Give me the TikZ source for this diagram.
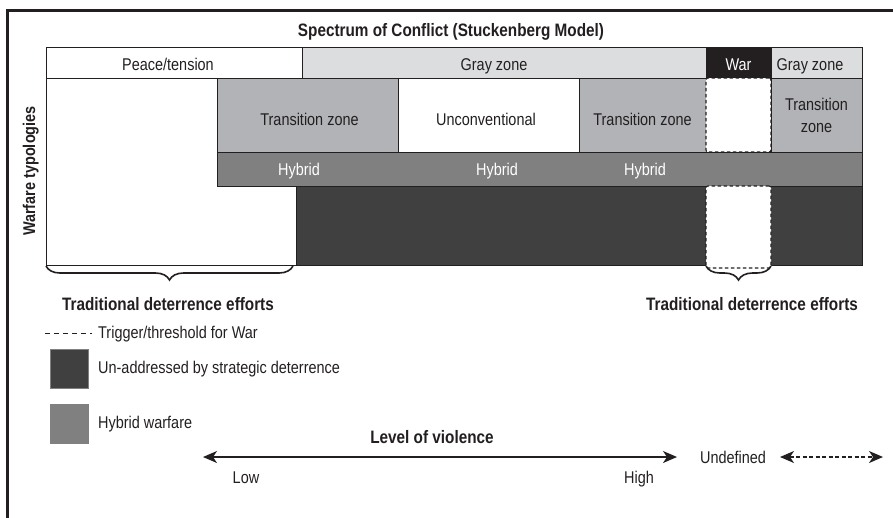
\documentclass[tikz,border=0pt]{standalone}
\usepackage{fontspec}
\setmainfont{Liberation Sans}[FakeStretch=0.85]
\usetikzlibrary{arrows.meta,decorations.pathreplacing}
\definecolor{ink}{HTML}{231F20}
\definecolor{zonegray}{HTML}{DCDDDE}
\definecolor{transgray}{HTML}{B1B3B6}
\definecolor{hybgray}{HTML}{808080}
\definecolor{deepgray}{HTML}{404040}
\begin{document}
\begin{tikzpicture}[x=1pt,y=-1pt,
  cell/.style={draw=ink, line width=0.9pt, inner sep=0pt, outer sep=0pt, anchor=north west},
  dashcell/.style={draw=ink, fill=white, line width=1.1pt, dash pattern=on 3.5pt off 2.5pt, rounded corners=2pt, inner sep=0pt, outer sep=0pt, anchor=north west},
  lbl/.style={inner sep=0pt, font=\fontsize{17}{21}\selectfont, text=ink, anchor=base},
  blbl/.style={inner sep=0pt, font=\fontsize{18}{21}\selectfont\bfseries, text=ink, anchor=base},
  bracestyle/.style={draw=ink, line width=1.6pt, decorate, decoration={brace, amplitude=14pt}},
  legsq/.style={draw=gray, line width=0.6pt, inner sep=0pt, minimum width=38pt, minimum height=39pt, anchor=north west},
  vioarrow/.style={draw=ink, line width=1.4pt, {Stealth[length=14pt,width=12pt,inset=4pt]}-{Stealth[length=14pt,width=12pt,inset=4pt]}}
]
\useasboundingbox (0,0) rectangle (893,517);
% frame
\draw[ink, line width=2.6pt] (7.5,520) -- (7.5,10.5) -- (896,10.5);

% title
\node[blbl] (title) at (451,36) {Spectrum of Conflict (Stuckenberg Model)};

% top row
\node[cell, fill=white, minimum width=256pt, minimum height=31pt] (peace) at (46,47) {};
\node[cell, fill=zonegray, minimum width=404pt, minimum height=31pt] (grayzone) at (302,47) {};
\node[cell, fill=ink, minimum width=65pt, minimum height=31pt] (war) at (706,47) {};
\node[cell, fill=zonegray, minimum width=91pt, minimum height=31pt] (grayzone2) at (771,47) {};
\node[lbl] (peacet) at (168,70) {Peace/tension};
\node[lbl] (grayzonet) at (494,70) {Gray zone};
\node[lbl, text=white] (wart) at (738.5,70) {War};
\node[lbl] (grayzone2t) at (810,70) {Gray zone};

% big white box
\node[cell, fill=white, minimum width=256pt, minimum height=187pt] (whitebox) at (46,78) {};

% second row
\node[cell, fill=transgray, minimum width=181pt, minimum height=74pt] (trans1) at (217,78) {};
\node[cell, fill=white, minimum width=181pt, minimum height=74pt] (unconv) at (398,78) {};
\node[cell, fill=transgray, minimum width=127pt, minimum height=74pt] (trans2) at (579,78) {};
\node[dashcell, minimum width=65pt, minimum height=74pt] (gap1) at (706,78) {};
\node[cell, fill=transgray, minimum width=91pt, minimum height=74pt] (trans3) at (771,78) {};
\node[lbl] (trans1t) at (309.5,125) {Transition zone};
\node[lbl] (unconvt) at (486,125) {Unconventional};
\node[lbl] (trans2t) at (642.5,125) {Transition zone};
\node[lbl] (trans3a) at (816.5,110) {Transition};
\node[lbl] (trans3b) at (816.5,132) {zone};

% hybrid row
\node[cell, fill=hybgray, minimum width=645pt, minimum height=34pt] (hybrid) at (217,152) {};
\node[lbl, text=white] (hyb1) at (299,175) {Hybrid};
\node[lbl, text=white] (hyb2) at (497,175) {Hybrid};
\node[lbl, text=white] (hyb3) at (645,175) {Hybrid};

% dark row
\node[cell, fill=deepgray, minimum width=566pt, minimum height=79pt] (dark) at (296,186) {};
\node[dashcell, minimum width=65pt, minimum height=82pt] (gap2) at (706,186) {};

% braces
\coordinate (bl1) at (46,266);
\coordinate (br1) at (293,266);
\coordinate (bl2) at (706,266);
\coordinate (br2) at (771,266);
\draw[bracestyle] (br1) -- (bl1);
\draw[bracestyle] (br2) -- (bl2);
\node[blbl] (trad1) at (168,310) {Traditional deterrence efforts};
\node[blbl] (trad2) at (752,310) {Traditional deterrence efforts};

% side label
\node[blbl, rotate=90, font=\fontsize{17}{21}\selectfont\bfseries] (typ) at (35,171) {Warfare typologies};

% legend
\coordinate (dl1) at (45,333);
\coordinate (dl2) at (92,333);
\draw[ink, line width=0.9pt, dash pattern=on 5pt off 4pt] (dl1) -- (dl2);
\node[lbl, anchor=base west] (trig) at (98,338) {Trigger/threshold for War};
\node[legsq, fill=deepgray] (sq1) at (50,349) {};
\node[lbl, anchor=base west] (unad) at (98,373) {Un-addressed by strategic deterrence};
\node[legsq, fill=hybgray] (sq2) at (50,404) {};
\node[lbl, anchor=base west] (hybw) at (98,428) {Hybrid warfare};

% level of violence
\coordinate (lowend) at (203,457);
\coordinate (highend) at (677,457);
\draw[vioarrow] (lowend) -- (highend);
\node[blbl] (lov) at (432,443) {Level of violence};
\node[lbl] (low) at (246,483) {Low};
\node[lbl] (high) at (639,483) {High};
\node[lbl] (undef) at (733,463) {Undefined};
\coordinate (u1) at (780,457);
\coordinate (u2) at (883,457);
\draw[vioarrow, dash pattern=on 4pt off 2.5pt] (u1) -- (u2);
\end{tikzpicture}
\end{document}
